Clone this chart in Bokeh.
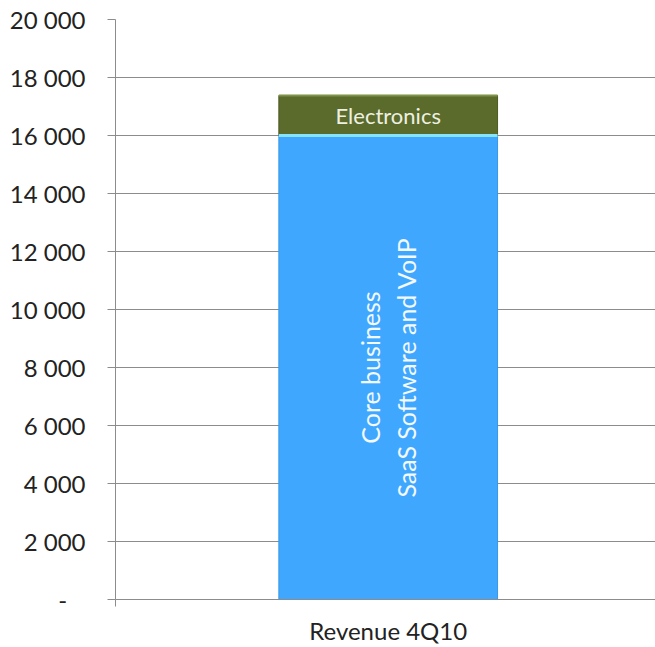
from bokeh.plotting import figure
from bokeh.models import Range1d, FixedTicker, ColumnDataSource
from bokeh.core.properties import value
from bokeh.embed import file_html
from bokeh.resources import INLINE
import math

# ---- data ----
categories = ["Revenue 4Q10"]
core_values = [16000]
electronics_values = [1380]
segment_names = ["Core business\nSaaS Software and VoIP", "Electronics"]
y_ticks = [0, 2000, 4000, 6000, 8000, 10000, 12000, 14000, 16000, 18000, 20000]
y_tick_labels = ["-\u00a0\u00a0\u00a0", "2 000", "4 000", "6 000", "8 000", "10 000",
                 "12 000", "14 000", "16 000", "18 000", "20 000"]

FONT = "Lato"
GRID = "#8c8c8c"

x_pos = [i + 0.505 for i in range(len(categories))]
core_top = core_values
elec_bottom = core_values
elec_top = [c + e for c, e in zip(core_values, electronics_values)]
BAR_W = 0.405

p = figure(width=655, height=647, output_backend="svg", toolbar_location=None,
           x_range=Range1d(0, 1), y_range=Range1d(0, 20000),
           min_border_left=115, min_border_right=0, min_border_top=19,
           min_border_bottom=48)
p.outline_line_color = None
p.background_fill_color = "white"
p.border_fill_color = "white"

src = ColumnDataSource(dict(x=x_pos, core=core_top, eb=elec_bottom, et=elec_top,
                            zero=[0] * len(x_pos),
                            x0=[x - BAR_W / 2 for x in x_pos],
                            x1=[x + BAR_W / 2 for x in x_pos]))

p.vbar(x="x", bottom="zero", top="core", width=BAR_W, source=src,
       fill_color="#3fa8fe", line_color="#3797e6", line_width=1)
p.vbar(x="x", bottom="eb", top="et", width=BAR_W, source=src,
       fill_color="#5a6b2b", line_color="#4b5a22", line_width=1)
# bevel highlights along segment tops
p.segment(x0="x0", x1="x1", y0="core", y1="core", source=src,
          line_color="#86e4ff", line_width=3)
p.segment(x0="x0", x1="x1", y0="et", y1="et", source=src,
          line_color="#7f9449", line_width=2)

# in-bar labels
core_mid = [c / 2 for c in core_values]
elec_mid = [(b + t) / 2 for b, t in zip(elec_bottom, elec_top)]
p.text(x=x_pos, y=core_mid, text=[segment_names[0]], angle=math.pi / 2,
       text_align="center", text_baseline="middle", text_color="#f4f8ff",
       text_font=value(FONT), text_font_size="25px", text_line_height=1.2)
p.text(x=x_pos, y=elec_mid, text=[segment_names[1]],
       text_align="center", text_baseline="middle", text_color="#eef0e2",
       text_font=value(FONT), text_font_size="22px")

# y axis
ya = p.yaxis[0]
ya.ticker = FixedTicker(ticks=y_ticks)
ya.major_label_overrides = {t: l for t, l in zip(y_ticks, y_tick_labels)}
ya.axis_line_color = GRID
ya.major_tick_line_color = GRID
ya.major_tick_out = 8
ya.major_tick_in = 0
ya.minor_tick_line_color = None
ya.major_label_standoff = 22
ya.major_label_text_font = FONT
ya.major_label_text_font_size = "24px"
ya.major_label_text_color = "#222222"

# x axis
xa = p.xaxis[0]
xa.ticker = FixedTicker(ticks=x_pos, minor_ticks=[0, 1])
xa.major_label_overrides = {x: c for x, c in zip(x_pos, categories)}
xa.axis_line_color = GRID
xa.major_tick_line_color = None
xa.major_tick_out = 0
xa.major_tick_in = 0
xa.minor_tick_line_color = GRID
xa.minor_tick_out = 7
xa.minor_tick_in = 0
xa.major_label_standoff = 9
xa.major_label_text_font = FONT
xa.major_label_text_font_size = "24px"
xa.major_label_text_color = "#222222"

p.xgrid.grid_line_color = None
p.ygrid.ticker = FixedTicker(ticks=y_ticks)
p.ygrid.grid_line_color = GRID
p.ygrid.grid_line_width = 1

open("out.html", "w").write(file_html(p, INLINE))
